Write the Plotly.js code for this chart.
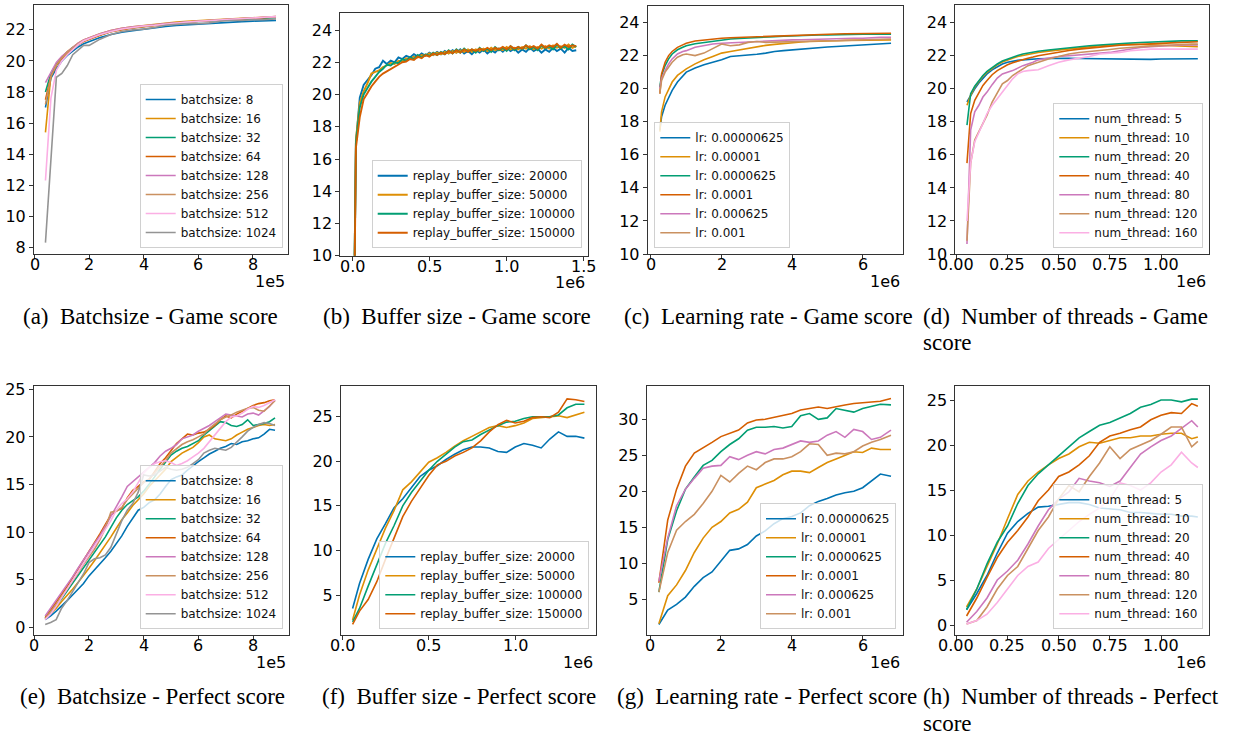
<!DOCTYPE html>
<html><head><meta charset="utf-8">
<script src="https://cdn.plot.ly/plotly-3.0.1.min.js"></script>
<style>html,body{margin:0;padding:0;background:#fff;} #chart{width:1233px;height:736px;}</style>
</head><body><div id="chart"></div>
<script>
// ---------- (a) Batchsize - Game score ----------
const aX = [40000, 60000, 80000, 100000, 120000, 140000, 160000, 180000, 200000, 240000,
  280000, 320000, 360000, 400000, 440000, 480000, 520000, 560000, 600000, 640000,
  680000, 720000, 760000, 800000, 840000, 885000];
const aNames = ['batchsize: 8','batchsize: 16','batchsize: 32','batchsize: 64','batchsize: 128','batchsize: 256','batchsize: 512','batchsize: 1024'];
const aB8 = [17.0, 18.9, 19.5, 20.0, 20.35, 20.65, 20.9, 21.1, 21.25, 21.5,
  21.7, 21.85, 21.95, 22.05, 22.12, 22.22, 22.28, 22.33, 22.38, 22.42,
  22.47, 22.5, 22.53, 22.56, 22.58, 22.6];
const aB16 = [15.4, 19.1, 19.8, 20.25, 20.6, 20.9, 21.15, 21.35, 21.5, 21.75,
  21.95, 22.1, 22.2, 22.28, 22.35, 22.42, 22.5, 22.55, 22.58, 22.62,
  22.66, 22.7, 22.74, 22.78, 22.82, 22.86];
const aB32 = [18.0, 19.2, 19.8, 20.2, 20.55, 20.85, 21.1, 21.3, 21.45, 21.7,
  21.9, 22.05, 22.15, 22.22, 22.3, 22.38, 22.45, 22.5, 22.54, 22.58,
  22.62, 22.66, 22.7, 22.72, 22.75, 22.78];
const aB64 = [17.5, 19.0, 19.7, 20.15, 20.5, 20.8, 21.05, 21.25, 21.4, 21.65,
  21.88, 22.02, 22.12, 22.2, 22.28, 22.36, 22.45, 22.5, 22.55, 22.58,
  22.63, 22.67, 22.71, 22.75, 22.79, 22.83];
const aB128 = [18.6, 19.3, 19.9, 20.3, 20.6, 20.9, 21.15, 21.35, 21.5, 21.75,
  21.95, 22.1, 22.2, 22.25, 22.32, 22.4, 22.46, 22.5, 22.55, 22.6,
  22.64, 22.68, 22.72, 22.76, 22.8, 22.85];
const aB256 = [17.2, 19.0, 19.75, 20.2, 20.55, 20.85, 21.1, 21.3, 21.45, 21.7,
  21.9, 22.05, 22.15, 22.22, 22.3, 22.38, 22.46, 22.52, 22.56, 22.6,
  22.64, 22.68, 22.72, 22.76, 22.8, 22.84];
const aB512 = [12.3, 17.6, 19.4, 20.0, 20.4, 20.75, 21.05, 21.3, 21.45, 21.7,
  21.9, 22.05, 22.15, 22.25, 22.3, 22.38, 22.45, 22.5, 22.55, 22.6,
  22.64, 22.68, 22.73, 22.77, 22.81, 22.85];
const aB1024 = [8.3, 13.6, 18.95, 19.2, 19.7, 20.4, 20.7, 21.0, 21.0, 21.4,
  21.7, 21.9, 22.0, 22.05, 22.15, 22.3, 22.35, 22.4, 22.4, 22.45,
  22.55, 22.6, 22.6, 22.65, 22.65, 22.7];

// ---------- (b) Buffer size - Game score ----------
const bX = [10000, 25000, 50000, 75000, 100000, 125000, 150000, 175000, 200000, 225000,
  250000, 275000, 300000, 325000, 350000, 375000, 400000, 425000, 450000, 475000,
  500000, 525000, 550000, 575000, 600000, 625000, 650000, 675000, 700000, 725000,
  750000, 775000, 800000, 825000, 850000, 875000, 900000, 925000, 950000, 975000,
  1000000, 1025000, 1050000, 1075000, 1100000, 1125000, 1150000, 1175000, 1200000, 1225000,
  1250000, 1275000, 1300000, 1325000, 1350000, 1375000, 1400000, 1425000, 1450000];
const bNames = ['replay_buffer_size: 20000','replay_buffer_size: 50000','replay_buffer_size: 100000','replay_buffer_size: 150000'];
const bR20k = [4, 17.0, 19.8, 20.6, 20.9, 21.2, 21.6, 21.7, 22.1, 21.9,
  22.1, 22.0, 22.3, 22.2, 22.4, 22.3, 22.5, 22.35, 22.55, 22.4,
  22.6, 22.45, 22.65, 22.5, 22.7, 22.55, 22.75, 22.6, 22.8, 22.55,
  22.7, 22.5, 22.75, 22.6, 22.8, 22.55, 22.75, 22.6, 22.85, 22.65,
  22.9, 22.7, 22.85, 22.6, 22.8, 22.65, 22.9, 22.7, 22.85, 22.6,
  22.8, 22.65, 22.9, 22.7, 22.85, 22.6, 22.9, 22.7, 22.75];
const bR50k = [4, 17.2, 19.5, 20.2, 20.7, 21.3, 21.4, 21.5, 21.7, 21.8,
  21.95, 21.9, 22.1, 22.05, 22.25, 22.2, 22.35, 22.3, 22.45, 22.4,
  22.55, 22.45, 22.6, 22.5, 22.65, 22.55, 22.7, 22.6, 22.75, 22.65,
  22.8, 22.65, 22.8, 22.7, 22.85, 22.7, 22.9, 22.75, 22.85, 22.75,
  22.95, 22.8, 22.9, 22.8, 22.95, 22.85, 23.0, 22.8, 22.95, 22.85,
  23.0, 22.85, 23.05, 22.9, 23.0, 22.9, 23.1, 22.9, 23.0];
const bR100k = [4, 17.0, 19.2, 20.0, 20.4, 20.8, 21.1, 21.4, 21.6, 21.85,
  21.8, 22.0, 21.95, 22.2, 22.1, 22.3, 22.2, 22.45, 22.3, 22.5,
  22.4, 22.6, 22.45, 22.65, 22.5, 22.75, 22.55, 22.8, 22.6, 22.85,
  22.65, 22.8, 22.6, 22.9, 22.7, 22.85, 22.65, 22.95, 22.75, 22.9,
  22.7, 23.0, 22.75, 22.95, 22.8, 23.05, 22.8, 22.95, 22.75, 23.05,
  22.85, 23.0, 22.8, 23.1, 22.85, 23.0, 22.8, 23.1, 22.95];
const bR150k = [3, 16.7, 18.6, 19.7, 20.1, 20.5, 20.8, 21.1, 21.3, 21.45,
  21.6, 21.7, 21.9, 22.0, 22.05, 22.2, 22.15, 22.35, 22.25, 22.45,
  22.35, 22.55, 22.45, 22.6, 22.5, 22.7, 22.55, 22.75, 22.6, 22.8,
  22.65, 22.8, 22.7, 22.85, 22.75, 22.9, 22.75, 22.9, 22.8, 22.95,
  22.8, 23.0, 22.85, 22.95, 22.85, 23.05, 22.9, 23.0, 22.85, 23.1,
  22.9, 23.05, 22.95, 23.15, 22.9, 23.1, 22.95, 23.05, 23.0];

// ---------- (c) Learning rate - Game score ----------
const cX = [250000, 300000, 400000, 500000, 600000, 750000, 900000, 1000000, 1250000, 1500000,
  1750000, 2000000, 2250000, 2500000, 2750000, 3000000, 3250000, 3500000, 3750000, 4000000,
  4250000, 4500000, 4750000, 5000000, 5250000, 5500000, 5750000, 6000000, 6250000, 6500000,
  6800000];
const lrNames = ['lr: 0.00000625','lr: 0.00001','lr: 0.0000625','lr: 0.0001','lr: 0.000625','lr: 0.001'];
const cL1 = [17.5, 18.3, 19.0, 19.5, 19.9, 20.4, 20.8, 21.0, 21.25, 21.45,
  21.6, 21.75, 21.95, 21.98, 22.02, 22.08, 22.15, 22.25, 22.3, 22.35,
  22.38, 22.42, 22.48, 22.52, 22.55, 22.58, 22.6, 22.63, 22.67, 22.72, 22.75];
const cL2 = [17.4, 18.6, 19.5, 20.0, 20.4, 20.8, 21.05, 21.2, 21.5, 21.75,
  21.95, 22.15, 22.25, 22.35, 22.45, 22.55, 22.62, 22.68, 22.74, 22.78,
  22.82, 22.85, 22.88, 22.9, 22.9, 22.92, 22.93, 22.93, 22.94, 22.95, 22.95];
const cL3 = [20.1, 20.8, 21.4, 21.8, 22.1, 22.35, 22.5, 22.6, 22.72, 22.8,
  22.88, 22.95, 23.0, 23.03, 23.07, 23.1, 23.12, 23.15, 23.17, 23.2,
  23.22, 23.24, 23.25, 23.25, 23.27, 23.28, 23.29, 23.3, 23.3, 23.3, 23.3];
const cL4 = [19.7, 20.9, 21.6, 22.0, 22.25, 22.5, 22.65, 22.75, 22.88, 22.95,
  23.0, 23.05, 23.08, 23.1, 23.13, 23.15, 23.18, 23.2, 23.22, 23.25,
  23.27, 23.28, 23.3, 23.3, 23.31, 23.32, 23.33, 23.33, 23.34, 23.35, 23.35];
const cL5 = [20.0, 20.6, 21.1, 21.5, 21.8, 22.1, 22.25, 22.3, 22.5, 22.6,
  22.7, 22.75, 22.78, 22.8, 22.83, 22.85, 22.88, 22.9, 22.92, 22.95,
  22.96, 22.98, 23.0, 23.0, 23.02, 23.03, 23.05, 23.05, 23.08, 23.1, 23.1];
const cL6 = [19.7, 20.5, 21.0, 21.3, 21.6, 21.9, 22.05, 22.1, 22.0, 22.15,
  22.45, 22.7, 22.6, 22.65, 22.8, 22.85, 22.8, 22.82, 22.82, 22.85,
  22.85, 22.87, 22.88, 22.9, 22.9, 22.92, 22.93, 22.95, 22.97, 22.98, 23.0];

// ---------- (d) Number of threads - Game score ----------
const dX = [52000, 70000, 90000, 110000, 130000, 150000, 175000, 200000, 225000, 250000,
  275000, 300000, 325000, 350000, 375000, 400000, 450000, 500000, 550000, 600000,
  650000, 700000, 750000, 800000, 850000, 900000, 950000, 1000000, 1050000, 1100000,
  1150000, 1180000];
const thNames = ['num_thread: 5','num_thread: 10','num_thread: 20','num_thread: 40','num_thread: 80','num_thread: 120','num_thread: 160'];
const dT5 = [19.2, 19.6, 20.0, 20.35, 20.65, 20.9, 21.15, 21.35, 21.5, 21.6,
  21.68, 21.72, 21.75, 21.78, 21.8, 21.82, 21.83, 21.85, 21.85, 21.83,
  21.82, 21.83, 21.82, 21.8, 21.8, 21.8, 21.78, 21.8, 21.8, 21.82, 21.82, 21.82];
const dT10 = [19.0, 19.6, 20.1, 20.45, 20.75, 21.0, 21.25, 21.45, 21.62, 21.75,
  21.85, 21.95, 22.02, 22.1, 22.15, 22.2, 22.28, 22.35, 22.42, 22.5,
  22.55, 22.6, 22.65, 22.68, 22.7, 22.68, 22.65, 22.62, 22.6, 22.58, 22.55, 22.55];
const dT20 = [17.8, 19.7, 20.15, 20.5, 20.8, 21.05, 21.3, 21.5, 21.68, 21.8,
  21.92, 22.02, 22.1, 22.17, 22.22, 22.27, 22.35, 22.42, 22.5, 22.55,
  22.6, 22.65, 22.7, 22.73, 22.77, 22.8, 22.83, 22.85, 22.87, 22.9, 22.9, 22.9];
const dT40 = [15.5, 18.5, 19.3, 19.8, 20.2, 20.5, 20.85, 21.1, 21.3, 21.45,
  21.58, 21.68, 21.78, 21.85, 21.92, 22.0, 22.1, 22.22, 22.32, 22.4,
  22.47, 22.53, 22.58, 22.63, 22.67, 22.7, 22.72, 22.75, 22.78, 22.8, 22.83, 22.85];
const dT80 = [10.6, 17.5, 18.6, 19.0, 19.5, 19.8, 20.25, 20.65, 20.9, 21.0,
  21.1, 21.25, 21.4, 21.5, 21.6, 21.75, 21.85, 21.95, 22.0, 22.05,
  22.1, 22.15, 22.2, 22.3, 22.4, 22.5, 22.55, 22.6, 22.62, 22.65, 22.65, 22.65];
const dT120 = [10.8, 15.5, 16.9, 17.4, 17.9, 18.4, 19.2, 19.8, 20.3, 20.5,
  20.8, 21.0, 21.2, 21.4, 21.5, 21.6, 21.8, 21.95, 22.1, 22.2,
  22.25, 22.3, 22.38, 22.45, 22.5, 22.55, 22.58, 22.6, 22.65, 22.68, 22.7, 22.7];
const dT160 = [12.0, 15.5, 16.8, 17.3, 17.9, 18.5, 19.0, 19.4, 19.8, 20.2,
  20.6, 20.9, 21.05, 21.1, 21.12, 21.15, 21.4, 21.6, 21.75, 21.85,
  21.95, 22.1, 22.15, 22.2, 22.3, 22.35, 22.4, 22.4, 22.42, 22.4, 22.4, 22.4];

// ---------- (e) Batchsize - Perfect score ----------
const eX = [40000, 60000, 80000, 100000, 120000, 140000, 160000, 180000, 200000, 220000,
  240000, 260000, 280000, 300000, 320000, 340000, 360000, 380000, 400000, 420000,
  440000, 460000, 480000, 500000, 520000, 540000, 560000, 580000, 600000, 620000,
  640000, 660000, 680000, 700000, 720000, 740000, 760000, 780000, 800000, 820000,
  840000, 860000, 880000];
const eB8 = [0.8, 1.2, 1.7, 2.2, 2.8, 3.4, 4.0, 4.6, 5.4, 6.0,
  6.6, 7.3, 8.0, 8.8, 9.6, 10.6, 11.5, 12.3, 12.6, 13.1,
  13.4, 14.0, 14.8, 15.5, 15.8, 16.0, 16.5, 17.0, 17.4, 17.8,
  18.2, 18.5, 18.8, 19.0, 19.3, 19.2, 19.5, 19.6, 19.8, 19.9,
  20.3, 20.8, 20.7];
const eB16 = [0.9, 1.4, 2.0, 2.7, 3.3, 4.0, 4.7, 5.4, 6.2, 7.0,
  7.8, 8.6, 9.5, 10.4, 11.3, 12.0, 12.8, 13.4, 14.0, 14.8,
  15.4, 16.0, 16.6, 17.4, 17.9, 18.3, 18.6, 18.9, 19.4, 20.0,
  20.2, 19.8, 19.7, 19.6, 19.8, 20.2, 20.5, 20.8, 21.0, 21.2,
  21.3, 21.2, 21.3];
const eB32 = [1.0, 1.6, 2.3, 3.0, 3.8, 4.6, 5.4, 6.2, 7.0, 7.8,
  8.6, 9.5, 10.5, 11.5, 12.3, 12.9, 13.3, 13.7, 14.3, 15.0,
  15.8, 16.6, 17.4, 18.1, 18.5, 18.8, 19.0, 19.3, 19.6, 20.2,
  20.7, 21.2, 21.6, 21.5, 21.2, 21.1, 21.3, 21.8, 21.2, 21.3,
  21.4, 21.6, 22.0];
const eB64 = [1.0, 1.8, 2.6, 3.5, 4.3, 5.2, 6.1, 7.0, 7.9, 8.8,
  9.8, 10.8, 11.8, 12.2, 12.5, 13.6, 14.4, 14.8, 15.3, 15.5,
  16.3, 17.2, 17.8, 18.6, 19.3, 19.8, 20.3, 20.2, 20.4, 20.5,
  20.8, 21.2, 21.8, 22.2, 22.0, 22.4, 22.7, 23.0, 23.3, 23.5,
  23.6, 23.8, 23.9];
const eB128 = [1.2, 2.0, 2.8, 3.6, 4.4, 5.3, 6.2, 7.1, 8.0, 8.8,
  9.6, 10.6, 11.6, 12.6, 13.7, 14.8, 15.3, 15.8, 16.3, 16.8,
  17.3, 18.0, 18.5, 18.8, 19.2, 19.8, 20.0, 20.2, 20.6, 20.9,
  21.2, 21.6, 22.0, 22.4, 22.3, 22.2, 22.1, 22.4, 22.5, 22.3,
  22.8, 23.2, 23.9];
const eB256 = [0.9, 1.6, 2.4, 3.2, 4.0, 4.8, 5.7, 6.6, 7.4, 8.2,
  9.2, 10.4, 12.1, 12.2, 12.6, 13.4, 14.0, 14.6, 15.2, 15.6,
  16.2, 16.9, 17.5, 18.3, 18.8, 19.2, 19.5, 19.7, 20.0, 20.3,
  20.9, 21.4, 21.8, 22.1, 22.3, 22.6, 22.8, 23.0, 23.1, 22.8,
  22.7, 23.2, 23.8];
const eB512 = [0.8, 1.4, 2.2, 3.1, 4.0, 4.9, 5.8, 6.7, 7.5, 8.4,
  9.3, 10.2, 11.2, 12.3, 13.0, 13.5, 14.2, 15.2, 16.2, 16.8,
  17.2, 17.4, 17.5, 17.3, 17.0, 17.2, 17.5, 17.9, 18.3, 18.8,
  19.5, 20.3, 21.0, 21.6, 22.1, 22.2, 22.5, 22.9, 23.2, 23.1,
  23.3, 23.6, 23.9];
const eB1024 = [0.3, 0.5, 0.8, 2.0, 2.8, 3.7, 4.6, 5.6, 6.8, 7.2,
  7.3, 7.6, 8.4, 9.8, 11.2, 12.3, 13.0, 14.2, 16.0, 15.9,
  16.0, 16.4, 16.8, 16.6, 16.5, 16.6, 16.8, 17.2, 17.6, 18.3,
  18.6, 18.8, 18.7, 18.6, 18.9, 19.4, 20.0, 20.6, 21.0, 21.3,
  21.5, 21.4, 21.2];

// ---------- (f) Buffer size - Perfect score ----------
const fX = [60000, 100000, 150000, 200000, 250000, 300000, 350000, 400000, 450000, 500000,
  550000, 600000, 650000, 700000, 750000, 800000, 850000, 900000, 950000, 1000000,
  1050000, 1100000, 1150000, 1200000, 1250000, 1300000, 1350000, 1400000];
const fR20k = [3.5, 6.3, 9.0, 11.3, 13.0, 14.8, 15.8, 17.0, 18.3, 19.0,
  19.5, 20.2, 20.8, 21.3, 21.6, 21.6, 21.5, 21.1, 21.0, 21.6,
  22.0, 21.8, 21.5, 22.5, 23.3, 22.8, 22.8, 22.6];
const fR50k = [2.2, 5.0, 7.8, 10.2, 12.5, 14.5, 16.8, 17.7, 18.8, 19.9,
  20.4, 21.0, 21.7, 22.3, 22.8, 23.3, 23.8, 24.0, 23.8, 24.0,
  24.3, 24.8, 24.9, 25.0, 25.1, 24.9, 25.2, 25.5];
const fR100k = [2.0, 3.5, 6.0, 8.5, 10.8, 12.8, 15.0, 16.5, 17.8, 19.0,
  20.0, 20.8, 21.6, 22.2, 22.4, 23.0, 23.5, 24.0, 24.4, 24.5,
  24.8, 25.0, 25.0, 25.0, 25.2, 26.0, 26.4, 26.4];
const fR150k = [1.7, 3.2, 4.5, 6.5, 9.0, 11.5, 13.8, 15.5, 17.0, 18.4,
  19.6, 20.0, 20.6, 21.0, 21.5, 22.3, 23.3, 24.1, 24.6, 24.3,
  24.5, 24.9, 25.0, 24.9, 25.5, 27.0, 26.9, 26.7];

// ---------- (g) Learning rate - Perfect score ----------
const gX = [250000, 500000, 750000, 1000000, 1250000, 1500000, 1750000, 2000000, 2250000, 2500000,
  2750000, 3000000, 3250000, 3500000, 3750000, 4000000, 4250000, 4500000, 4750000, 5000000,
  5250000, 5500000, 5750000, 6000000, 6250000, 6500000, 6800000];
const gL1 = [1.5, 3.5, 4.3, 5.3, 6.8, 8.0, 8.8, 10.3, 11.8, 12.0,
  12.6, 13.8, 14.5, 15.5, 16.2, 16.5, 17.0, 18.0, 18.6, 19.0,
  19.5, 19.8, 20.0, 20.5, 21.5, 22.4, 22.1];
const gL2 = [1.6, 5.5, 7.0, 9.0, 11.5, 13.5, 15.0, 15.8, 17.0, 17.5,
  18.5, 20.5, 21.0, 21.5, 22.3, 22.8, 22.8, 22.6, 23.3, 24.0,
  24.5, 25.0, 25.5, 25.4, 26.0, 25.8, 25.8];
const gL3 = [6.0, 13.3, 17.3, 20.3, 22.0, 23.6, 24.3, 25.5, 26.5, 27.3,
  28.5, 28.9, 28.9, 29.0, 28.8, 29.0, 30.5, 30.8, 30.0, 30.2,
  31.5, 31.2, 31.0, 31.5, 31.8, 32.1, 32.0];
const gL4 = [7.3, 16.0, 20.3, 23.5, 25.3, 26.0, 26.8, 27.6, 28.0, 28.5,
  29.5, 29.9, 30.0, 30.3, 30.5, 30.8, 31.3, 31.5, 31.7, 31.5,
  31.8, 32.0, 32.2, 32.3, 32.3, 32.5, 32.9];
const gL5 = [7.5, 13.5, 18.0, 20.3, 21.8, 23.2, 23.5, 23.6, 24.8, 24.4,
  25.0, 25.5, 25.2, 25.8, 26.0, 26.5, 27.0, 26.8, 27.0, 27.8,
  28.3, 27.5, 28.6, 28.3, 27.2, 27.5, 28.5];
const gL6 = [6.0, 11.5, 14.6, 15.8, 16.8, 18.3, 20.0, 22.2, 21.3, 22.5,
  23.5, 23.0, 24.0, 24.5, 24.5, 24.8, 25.5, 26.6, 26.5, 25.0,
  25.3, 25.2, 25.5, 26.3, 26.8, 27.2, 27.8];

// ---------- (h) Number of threads - Perfect score ----------
const hX = [50000, 100000, 150000, 200000, 250000, 300000, 350000, 400000, 450000, 500000,
  550000, 600000, 650000, 700000, 750000, 800000, 850000, 900000, 950000, 1000000,
  1050000, 1100000, 1150000, 1180000];
const hT5 = [1.7, 3.5, 5.5, 8.0, 10.2, 11.5, 12.4, 13.1, 13.2, 13.4,
  13.6, 13.6, 13.4, 13.0, 12.9, 12.8, 12.5, 12.5, 12.4, 12.3,
  12.3, 12.1, 12.1, 12.0];
const hT10 = [2.0, 4.0, 6.5, 9.0, 11.8, 14.5, 16.0, 17.0, 17.8, 18.5,
  19.0, 19.8, 20.3, 20.2, 20.5, 20.8, 20.8, 21.0, 21.0, 21.2,
  21.3, 21.3, 20.7, 20.9];
const hT20 = [1.7, 4.0, 6.8, 9.2, 11.0, 13.5, 15.5, 16.8, 17.8, 18.8,
  19.8, 20.8, 21.5, 22.2, 22.5, 23.0, 23.5, 24.2, 24.5, 25.0,
  25.0, 24.8, 25.1, 25.1];
const hT40 = [1.0, 3.0, 5.3, 7.5, 9.2, 10.5, 12.0, 13.8, 15.0, 16.5,
  17.0, 17.8, 18.8, 20.3, 21.0, 21.3, 21.7, 22.0, 22.8, 23.3,
  23.6, 23.5, 24.6, 24.3];
const hT80 = [0.3, 1.5, 3.0, 5.0, 6.0, 7.2, 9.0, 11.0, 12.8, 14.0,
  14.8, 16.3, 16.0, 15.8, 15.4, 16.0, 17.5, 19.0, 19.8, 20.5,
  21.0, 21.8, 22.7, 22.0];
const hT120 = [0.1, 0.5, 2.0, 4.0, 5.5, 6.5, 8.5, 10.5, 12.0, 14.0,
  15.5, 14.8, 16.5, 18.0, 19.8, 18.5, 19.5, 20.0, 20.5, 21.2,
  22.0, 22.0, 19.8, 20.4];
const hT160 = [0.1, 0.5, 1.2, 2.5, 4.0, 5.5, 6.5, 7.0, 8.5, 9.5,
  10.5, 11.5, 12.3, 13.0, 14.0, 15.8, 15.5, 15.0, 15.8, 17.0,
  17.8, 19.2, 18.0, 17.5];

// ---------- tick labels and captions ----------
const xt5 = [0, 200000, 400000, 600000, 800000], xt5Text = ['0','2','4','6','8'];
const xtB = [0, 500000, 1000000, 1500000], xtBText = ['0.0','0.5','1.0','1.5'];
const xtF = [0, 500000, 1000000], xtFText = ['0.0','0.5','1.0'];
const xtC = [0, 2000000, 4000000, 6000000], xtCText = ['0','2','4','6'];
const xtD = [0, 250000, 500000, 750000, 1000000], xtDText = ['0.00','0.25','0.50','0.75','1.00'];
const ytA = [8, 10, 12, 14, 16, 18, 20, 22];
const ytTop = [10, 12, 14, 16, 18, 20, 22, 24];
const ytE = [0, 5, 10, 15, 20, 25];
const ytF = [5, 10, 15, 20, 25];
const ytG = [5, 10, 15, 20, 25, 30];
const captions = [
  '(a)\u2002Batchsize - Game score', '(b)\u2002Buffer size - Game score',
  '(c)\u2002Learning rate - Game score', '(d)\u2002Number of threads - Game',
  '(e)\u2002Batchsize - Perfect score', '(f)\u2002Buffer size - Perfect score',
  '(g)\u2002Learning rate - Perfect score', '(h)\u2002Number of threads - Perfect'];

// ---------- layout / styling ----------
const W = 1233, H = 736;
const COLORS = ['#0173b2','#de8f05','#029e73','#d55e00','#cc78bc','#ca9161','#fbafe4','#949494'];
const panels = [
  {x:aX, ys:[aB8,aB16,aB32,aB64,aB128,aB256,aB512,aB1024], names:aNames, box:[34,5,288.3,254], xr:[-2000,930000], yr:[7.57,23.6], xt:xt5, xtt:xt5Text, yt:ytA, off:'1e5', leg:{x:282.7,y:248,xa:'right'}, cap:{x:150,y:316}, lw:1.6},
  {x:bX, ys:[bR20k,bR50k,bR100k,bR150k], names:bNames, box:[340.3,13.3,588.3,255.7], xr:[-76000,1528000], yr:[10,25.04], xt:xtB, xtt:xtBText, yt:ytTop, off:'1e6', leg:{x:581.7,y:248.3,xa:'right'}, cap:{x:457,y:316}, lw:1.9},
  {x:cX, ys:[cL1,cL2,cL3,cL4,cL5,cL6], names:lrNames, box:[647.7,6,903.3,254], xr:[-93000,7147000], yr:[10,25.0], xt:xtC, xtt:xtCText, yt:ytTop, off:'1e6', leg:{x:654.3,y:248.3,xa:'left'}, cap:{x:768,y:316}, lw:1.6},
  {x:dX, ys:[dT5,dT10,dT20,dT40,dT80,dT120,dT160], names:thNames, box:[955.3,5,1209.3,254], xr:[-5000,1236000], yr:[10,25.07], xt:xtD, xtt:xtDText, yt:ytTop, off:'1e6', leg:{x:1203.3,y:248.3,xa:'right'}, cap:{x:921,y:316,left:true}, lw:1.6},
  {x:eX, ys:[eB8,eB16,eB32,eB64,eB128,eB256,eB512,eB1024], names:aNames, box:[33.7,385.7,288.7,635], xr:[-2000,930000], yr:[-0.81,25.38], xt:xt5, xtt:xt5Text, yt:ytE, off:'1e5', leg:{x:282.7,y:629.3,xa:'right'}, cap:{x:152,y:696}, lw:1.6},
  {x:fX, ys:[fR20k,fR50k,fR100k,fR150k], names:bNames, box:[341,385.7,596,635], xr:[-7000,1467000], yr:[0.52,28.48], xt:xtF, xtt:xtFText, yt:ytF, off:'1e6', leg:{x:589.3,y:629.3,xa:'right'}, cap:{x:459,y:696}, lw:1.6},
  {x:gX, ys:[gL1,gL2,gL3,gL4,gL5,gL6], names:lrNames, box:[646.7,385.7,903.3,635], xr:[-93000,7147000], yr:[0.04,34.67], xt:xtC, xtt:xtCText, yt:ytG, off:'1e6', leg:{x:896,y:629.3,xa:'right'}, cap:{x:767,y:696}, lw:1.6},
  {x:hX, ys:[hT5,hT10,hT20,hT40,hT80,hT120,hT160], names:thNames, box:[955.3,385.7,1209.3,635], xr:[-5000,1236000], yr:[-1.11,26.59], xt:xtD, xtt:xtDText, yt:ytE, off:'1e6', leg:{x:1203.3,y:629.3,xa:'right'}, cap:{x:921,y:696,left:true}, lw:1.6}
];

const tickFont = {family:'DejaVu Sans', size:16, color:'#000'};
const axisBase = {showline:true, mirror:true, linecolor:'#333', linewidth:1, ticks:'outside', ticklen:4, tickwidth:1, tickcolor:'#333',
  showgrid:false, zeroline:false, tickmode:'array', fixedrange:true, tickfont:tickFont};
const legendBase = {bgcolor:'rgba(255,255,255,0.8)', bordercolor:'#d0d0d0', borderwidth:1, yanchor:'bottom',
  font:{family:'DejaVu Sans', size:12, color:'#111'}, traceorder:'normal'};
const capFont = {family:'Liberation Serif', size:23, color:'#000'};

const data = [];
const layout = {width:W, height:H, margin:{l:0,r:0,t:0,b:0,pad:0}, paper_bgcolor:'#fff', plot_bgcolor:'#fff', showlegend:true, annotations:[]};

panels.forEach((p, i) => {
  const n = i + 1;
  const xk = n === 1 ? 'xaxis' : 'xaxis' + n, yk = n === 1 ? 'yaxis' : 'yaxis' + n;
  const xr = n === 1 ? 'x' : 'x' + n, yr = n === 1 ? 'y' : 'y' + n;
  const lg = n === 1 ? 'legend' : 'legend' + n;
  p.ys.forEach((y, j) => data.push({type:'scatter', mode:'lines', x:p.x, y:y, name:p.names[j], xaxis:xr, yaxis:yr, legend:lg,
    line:{color:COLORS[j], width:p.lw}, hoverinfo:'skip'}));
  // x tick marks drawn by the axis; their labels placed as annotations on the same axis scale (closer to the frame, like the reference)
  layout[xk] = Object.assign({}, axisBase, {anchor:yr, domain:[p.box[0]/W, p.box[2]/W], range:p.xr, tickvals:p.xt, showticklabels:false});
  layout[yk] = Object.assign({}, axisBase, {anchor:xr, domain:[1-p.box[3]/H, 1-p.box[1]/H], range:p.yr, tickvals:p.yt, ticktext:p.yt.map(String)});
  layout[lg] = Object.assign({}, legendBase, {x:p.leg.x/W, y:1-p.leg.y/H, xanchor:p.leg.xa});
  p.xt.forEach((t, k) => layout.annotations.push({xref:xr, yref:'paper', x:t, y:1-(p.box[3]+10.5)/H, xanchor:'center', yanchor:'middle',
    showarrow:false, text:p.xtt[k], font:tickFont}));
  const offY = p.box[3] + 27;
  layout.annotations.push({xref:'paper', yref:'paper', x:(p.box[2]-1)/W, y:1-offY/H, xanchor:'right', yanchor:'middle', showarrow:false,
    text:p.off, font:tickFont});
  layout.annotations.push({xref:'paper', yref:'paper', x:p.cap.x/W, y:1-p.cap.y/H, xanchor:p.cap.left?'left':'center', yanchor:'middle', showarrow:false,
    text:captions[i], font:capFont});
  if (p.cap.left) {
    layout.annotations.push({xref:'paper', yref:'paper', x:p.cap.x/W, y:1-(p.cap.y+27)/H, xanchor:'left', yanchor:'middle', showarrow:false,
      text:'score', font:capFont});
  }
});

Plotly.newPlot('chart', data, layout, {staticPlot:true, displayModeBar:false});
</script></body></html>
